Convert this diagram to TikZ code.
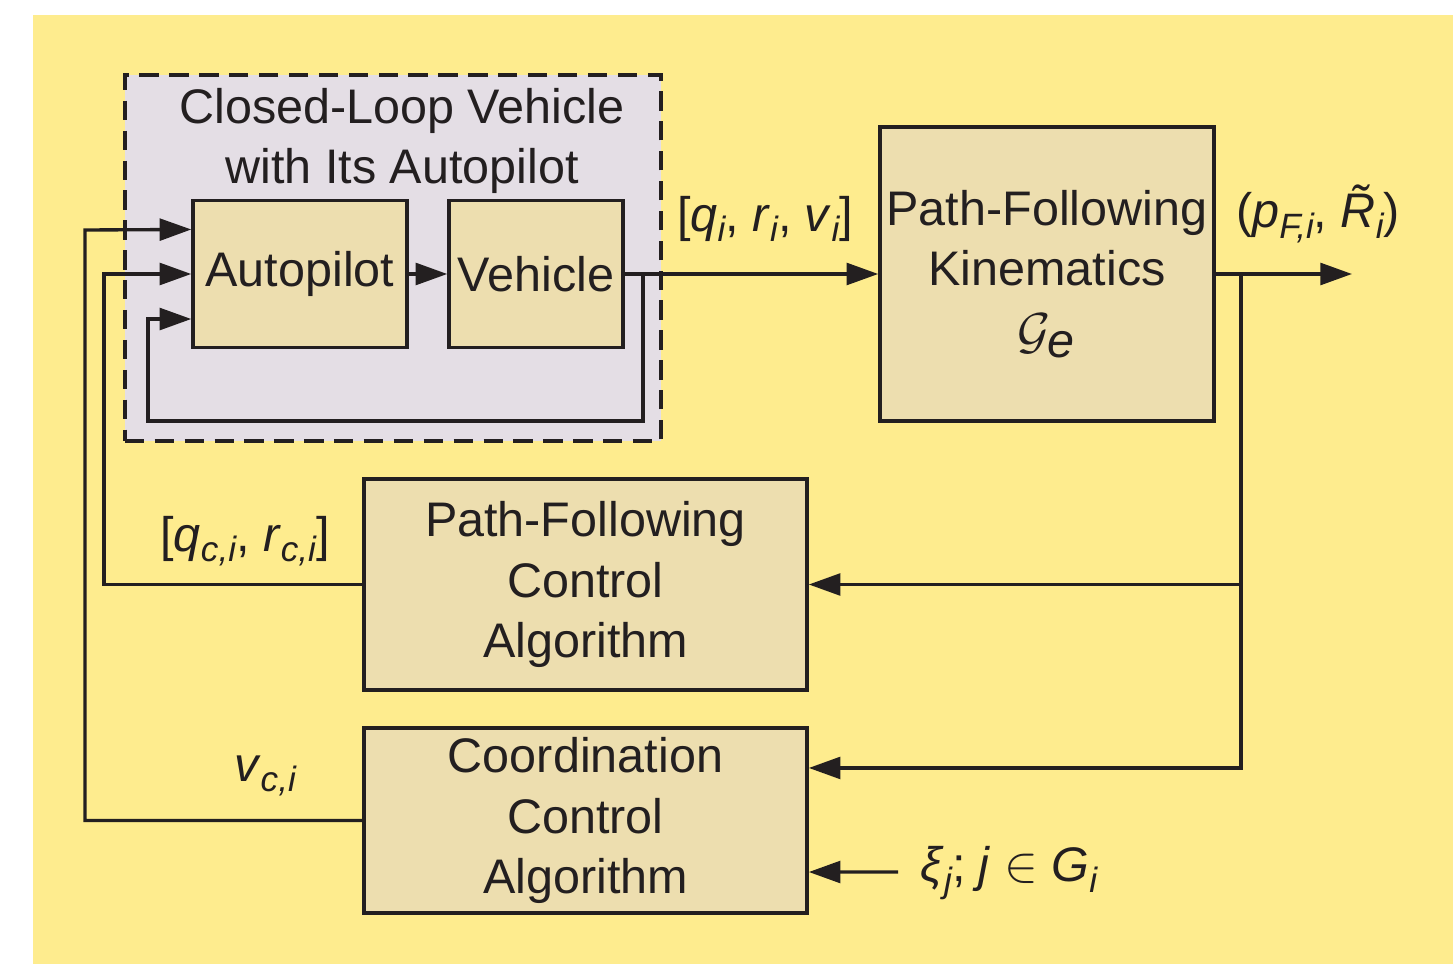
\documentclass[tikz,border=0pt]{standalone}
\usepackage{fontspec}
\setmainfont{Liberation Sans}
\usetikzlibrary{arrows.meta,calc}

\definecolor{bgyellow}{HTML}{FEEC8E}
\definecolor{loopfill}{HTML}{E4DEE5}
\definecolor{blockfill}{HTML}{EDDEAF}
\definecolor{ink}{HTML}{231F20}

% lowered italic subscript
\newcommand{\lo}[1]{\raisebox{-0.4ex}{\fontsize{10}{10}\selectfont\itshape #1}}

\tikzset{
  base/.style={font=\fontsize{13.8}{17.1}\selectfont, text=ink},
  blk/.style={base, draw=ink, line width=0.95pt, fill=blockfill, align=center, inner sep=0pt},
  loopbox/.style={draw=ink, line width=1pt, fill=loopfill, dash pattern=on 5.5pt off 3pt},
  wire/.style={draw=ink, line width=0.95pt},
  arr/.style={wire, -{Triangle[length=9pt,width=6.2pt]}},
  lbl/.style={base, inner sep=0pt, align=center},
}

\begin{document}
\begin{tikzpicture}[x=0.01cm, y=-0.01cm]
  \useasboundingbox (0,0) rectangle (1453,967);
  \fill[bgyellow] (33,15) rectangle (1453,964);

  % closed-loop vehicle frame
  \node[loopbox, minimum width=5.36cm, minimum height=3.66cm] (loop) at (393,258) {};
  \node[lbl] (looptitle) at (402,141) {Closed-Loop Vehicle\\with Its Autopilot};

  % blocks
  \node[blk, minimum width=2.14cm, minimum height=1.47cm] (ap)  at (300,274) {Autopilot};
  \node[blk, minimum width=1.74cm, minimum height=1.47cm] (veh) at (536,274) {Vehicle};
  \node[blk, minimum width=3.34cm, minimum height=2.94cm] (kin) at (1047,274)
    {Path-Following\\Kinematics\\[1pt]$\mathcal{G}_{\textit{e}}$};
  \node[blk, minimum width=4.43cm, minimum height=2.11cm] (pfc) at (585.5,584.5)
    {Path-Following\\Control\\Algorithm};
  \node[blk, minimum width=4.43cm, minimum height=1.85cm] (cca) at (585.5,820.5)
    {Coordination\\Control\\Algorithm};

  % routing points
  \coordinate (in1) at ([yshift=0.445cm]ap.west);
  \coordinate (in3) at ([yshift=-0.45cm]ap.west);
  \coordinate (fbA) at (643,274);
  \coordinate (fbB) at (148,421);
  \coordinate (mid) at (104,274);
  \coordinate (outer) at (85,230);
  \coordinate (br) at (1241,274);
  \coordinate (out) at (1352,274);
  \coordinate (xi) at (898,872);
  \coordinate (ccin1) at ([yshift=0.525cm]cca.east);
  \coordinate (ccin2) at ([yshift=-0.515cm]cca.east);

  % connectors
  \draw[arr] (ap.east) -- (veh.west);
  \draw[arr] (veh.east) -- (kin.west);
  \draw[arr] (fbA) |- (fbB) |- (in3);
  \draw[arr] (kin.east) -- (out);
  \draw[arr] (br) |- (pfc.east);
  \draw[arr] (br) |- (ccin1);
  \draw[arr] (pfc.west) -| (mid) -- (ap.west);
  \draw[arr] (cca.west) -| (outer) -- (in1);
  \draw[arr] (xi) -- (ccin2);

  % signal labels
  \node[lbl] (lq) at (765,219) {[\textit{q}\lo{i}, \textit{r}\lo{i}, \textit{v}\lo{i}]};
  \node[lbl] (lp) at (1318,214) {(\textit{p}\lo{F,i}, \textit{\~{R}}\lo{i})};
  \node[lbl] (lqc) at (245,541) {[\textit{q}\lo{c,i}, \textit{r}\lo{c,i}]};
  \node[lbl] (lv) at (265,776) {\textit{v}\lo{c,i}};
  \node[lbl, anchor=west] (lxi) at (920,873) {\textit{ξ}\lo{j}; \textit{j} $\in$ \textit{G}\lo{i}};
\end{tikzpicture}
\end{document}
